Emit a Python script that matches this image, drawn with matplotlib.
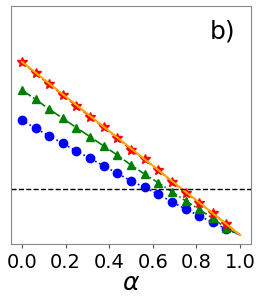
import numpy as np
import matplotlib.pyplot as plt

alpha = [i / 16 for i in range(17)]

y_star = [0.766, 0.717, 0.672, 0.626, 0.580, 0.535, 0.490, 0.447, 0.395,
          0.356, 0.311, 0.262, 0.216, 0.174, 0.129, 0.084, 0.038]
y_tri = [0.647, 0.608, 0.567, 0.528, 0.489, 0.451, 0.412, 0.374, 0.332,
         0.294, 0.258, 0.220, 0.182, 0.146, 0.108, 0.066, 0.038]
y_circ = [0.521, 0.486, 0.455, 0.423, 0.391, 0.360, 0.329, 0.297, 0.266,
          0.238, 0.209, 0.178, 0.147, 0.119, 0.091, 0.063, 0.038]
y_line = [0.766, 0.038]
alpha_line = [0.0, 1.0]
threshold = 0.231

fig = plt.figure(figsize=(2.62, 3.04), dpi=100)
ax = fig.add_axes([0.042, 0.197, 0.916, 0.783])

ax.plot(alpha, y_circ, ':', color='blue', marker='o', markersize=6,
        markevery=slice(0, 16), lw=1.2)
ax.plot(alpha, y_tri, '-.', color='green', marker='^', markersize=6,
        markevery=slice(0, 16), lw=1.2)
ax.plot(alpha, y_star, '--', color='red', marker='*', markersize=7,
        markevery=slice(0, 16), lw=1.2)
ax.plot(alpha_line, y_line, '-', color='orange', lw=1.5)
ax.axhline(threshold, color='black', ls='--', lw=1)

ax.set_xlim(-0.05, 1.05)
ax.set_ylim(0, 1)
ax.set_yticks([])
ax.set_xticks([0.0, 0.2, 0.4, 0.6, 0.8, 1.0])
ax.tick_params(axis='x', labelsize=14, length=3, color='#555555')
ax.set_xlabel(r'$\alpha$', fontsize=18, labelpad=-1)
for s in ax.spines.values():
    s.set_color('#888888')
ax.text(0.935, 0.895, 'b)', transform=ax.transAxes, fontsize=18,
        ha='right', va='center')

plt.savefig('out.png', dpi=100)
